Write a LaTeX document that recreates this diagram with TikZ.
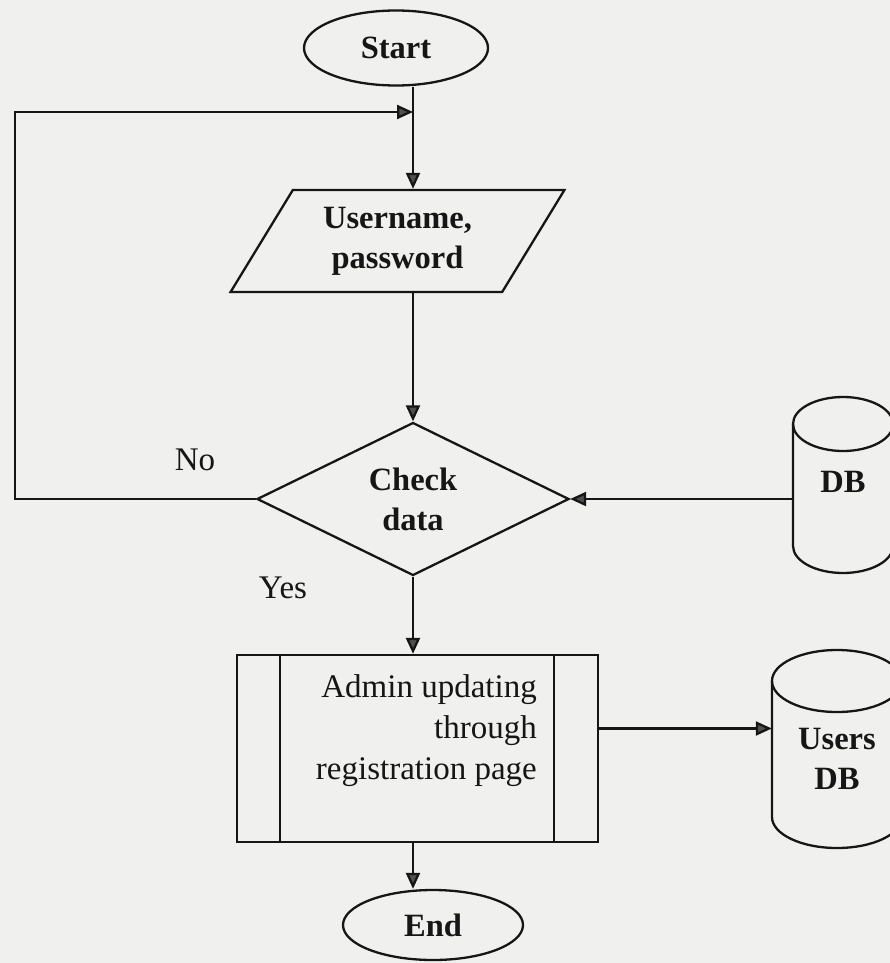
\documentclass[tikz,border=0pt]{standalone}
\usepackage{fontspec}
\setmainfont{Liberation Serif}
\usetikzlibrary{shapes.geometric,arrows.meta,calc}
\definecolor{paper}{RGB}{240,240,238}
\definecolor{ink}{RGB}{22,22,22}
\definecolor{tipgray}{RGB}{80,80,80}

\begin{document}
\begin{tikzpicture}[x=1pt,y=-1pt,
  every node/.style={text=ink, inner sep=0pt},
  boldtext/.style={font=\fontsize{32.5}{40}\selectfont\bfseries},
  plaintext/.style={font=\fontsize{33}{41}\selectfont},
  outline/.style={draw=ink, line width=2.3pt},
  flow/.style={draw=ink, line width=2.3pt, -{Triangle[length=16pt,width=14pt,fill=tipgray]}},
  terminal/.style={outline, ellipse, boldtext},
  inputbox/.style={outline, trapezium, trapezium left angle=57, trapezium right angle=123,
                   trapezium stretches=true, boldtext, align=center},
  decision/.style={outline, diamond, aspect=2, boldtext, align=center},
  subprocess/.style={outline, rectangle},
  store/.style={boldtext, align=center}
]
% page
\fill[paper] (0,0) rectangle (890,963);
\useasboundingbox (0,0) rectangle (890,963);

\coordinate (spine) at (413,0);
\coordinate (loopcorner) at (15,112);

% terminals, input, decision
\node[terminal, minimum width=184, minimum height=75] (start) at (396,48) {Start};
\node[inputbox, minimum width=335, minimum height=102] (user) at (397.5,241) {Username,\\password};
\node[decision, minimum width=312, minimum height=153] (check) at (413,499) {Check\\data};
\node[terminal, minimum width=180, minimum height=70] (finish) at (433,925) {End};

% predefined process box with its two side bars
\node[subprocess, minimum width=361, minimum height=187] (box) at (417.5,748.5) {};
\draw[outline] ([xshift=44pt]box.north west) -- ([xshift=44pt]box.south west);
\draw[outline] ([xshift=-45pt]box.north east) -- ([xshift=-45pt]box.south east);
\node[plaintext, align=right, anchor=east] (boxtext) at (537,731)
  {Admin updating\\through\\registration page};

% database cylinders
\draw[outline] (793,424) -- (793,546) arc[start angle=180, end angle=360, x radius=50pt, y radius=27pt] -- (893,424);
\draw[outline] (843,424) ellipse [x radius=50pt, y radius=27pt];
\node[store, minimum width=100, minimum height=100] (db) at (843,482) {DB};

\draw[outline] (772,681) -- (772,817) arc[start angle=180, end angle=360, x radius=65pt, y radius=31pt] -- (902,681);
\draw[outline] (837,681) ellipse [x radius=65pt, y radius=31pt];
\node[store, minimum width=130, minimum height=100] (users) at (837,759) {Users\\DB};

% branch labels
\node[plaintext] (nolabel) at (195,460) {No};
\node[plaintext] (yeslabel) at (283,588) {Yes};

% connectors
\draw[flow] (start.south -| spine) -- (user.north -| spine);
\draw[flow] (user.south -| spine) -- (check.north);
\draw[flow] (check.south) -- (box.north -| spine);
\draw[flow] (box.south -| spine) -- (finish.north -| spine);
\draw[flow] (check.west) -| (loopcorner) -- (loopcorner -| spine);
\draw[flow] (db.west |- check.east) -- (check.east);
\draw[flow] ([yshift=20pt]box.east) coordinate (boxout) -- (boxout -| users.west);
\end{tikzpicture}
\end{document}
